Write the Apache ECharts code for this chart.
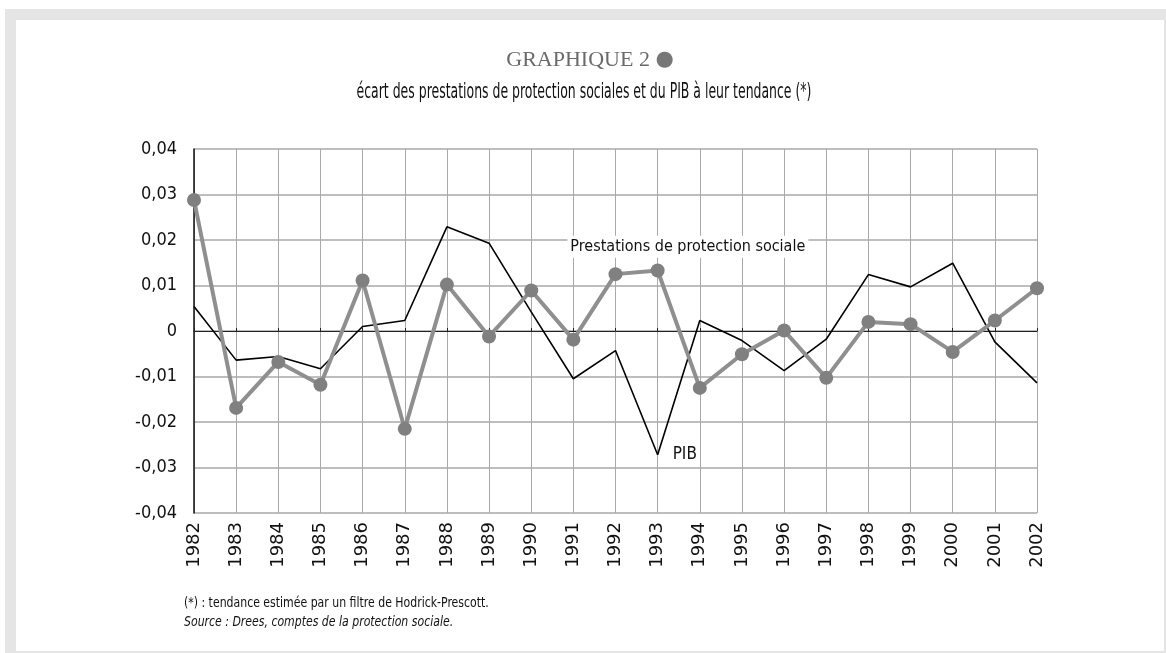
<!DOCTYPE html>
<html>
<head>
<meta charset="utf-8">
<script src="https://cdn.jsdelivr.net/npm/echarts@6/dist/echarts.min.js"></script>
<style>
  html, body { margin: 0; padding: 0; background: #fff; }
  #frame { position: absolute; left: 5px; top: 9px; width: 1161px; height: 644px; background: #e5e5e5; }
  #main { position: absolute; left: 16px; top: 20px; width: 1148px; height: 631px; background: #fff; }
</style>
</head>
<body>
<div id="frame"></div>
<div id="main"></div>
<script>
const years = ['1982', '1983', '1984', '1985', '1986', '1987', '1988', '1989', '1990', '1991', '1992',
  '1993', '1994', '1995', '1996', '1997', '1998', '1999', '2000', '2001', '2002'];

// écart du PIB à sa tendance
const pib = [0.0054, -0.0064, -0.0056, -0.0083, 0.0010, 0.0023, 0.0229, 0.0193, 0.0042, -0.0105, -0.0043,
  -0.0272, 0.0023, -0.0021, -0.0087, -0.0018, 0.0124, 0.0097, 0.0149, -0.0024, -0.0114];

// écart des prestations de protection sociale à leur tendance
const prestations = [0.0288, -0.0169, -0.0068, -0.0118, 0.0111, -0.0215, 0.0102, -0.0012, 0.0089, -0.0019, 0.0125,
  0.0133, -0.0125, -0.0051, 0.0001, -0.0103, 0.0020, 0.0015, -0.0046, 0.0023, 0.0094];

const yTicks = { min: -0.04, max: 0.04, step: 0.01 };

const narrow = "'Liberation Sans Narrow', 'DejaVu Sans Condensed', 'Roboto', sans-serif";

var chartDom = document.getElementById('main');
var myChart = echarts.init(chartDom);
var option;

option = {
  animation: false,
  title: {
    text: 'GRAPHIQUE 2 {dot|●}',
    left: 'center',
    top: 24,
    textStyle: {
      fontFamily: "'Liberation Serif', serif",
      fontWeight: 'normal',
      fontSize: 22,
      color: '#6a6a6a',
      rich: {
        dot: { fontSize: 21, color: '#777', fontFamily: "'DejaVu Sans', sans-serif" }
      }
    }
  },
  // condensed texts: no narrow font installed, so squeeze horizontally
  graphic: [
    {
      type: 'text',
      x: 568,
      y: 73,
      scaleX: 0.66,
      style: {
        text: 'écart des prestations de protection sociales et du PIB à leur tendance (*)',
        font: "21px " + narrow,
        fill: '#111',
        align: 'center',
        verticalAlign: 'middle'
      }
    },
    {
      type: 'text',
      x: 168,
      y: 583,
      scaleX: 0.9,
      style: {
        text: '(*) : tendance estimée par un filtre de Hodrick-Prescott.',
        font: "13.5px " + narrow,
        fill: '#111',
        align: 'left',
        verticalAlign: 'middle'
      }
    },
    {
      type: 'text',
      x: 168,
      y: 602,
      scaleX: 0.9,
      style: {
        text: 'Source : Drees, comptes de la protection sociale.',
        font: "italic 13.5px " + narrow,
        fill: '#111',
        align: 'left',
        verticalAlign: 'middle'
      }
    }
  ],
  grid: {
    left: 178,
    right: 127,
    top: 129,
    bottom: 138
  },
  xAxis: [
    {
      type: 'category',
      data: years,
      boundaryGap: false,
      axisLine: { show: false, onZero: false },
      axisTick: { show: false },
      splitLine: { show: true, lineStyle: { color: '#a9a9a9', width: 1 } },
      axisLabel: {
        interval: 0,
        rotate: 90,
        margin: 9,
        fontFamily: "'DejaVu Sans', sans-serif",
        fontSize: 18,
        color: '#111'
      }
    },
    {
      type: 'category',
      data: years,
      boundaryGap: false,
      position: 'bottom',
      axisLine: { show: true, onZero: true, lineStyle: { color: '#222', width: 1 } },
      axisTick: { show: true, inside: true, length: 3, interval: 0, lineStyle: { color: '#222' } },
      axisLabel: { show: false },
      splitLine: { show: false }
    }
  ],
  yAxis: {
    type: 'value',
    min: yTicks.min,
    max: yTicks.max,
    interval: yTicks.step,
    axisLine: { show: true, onZero: false, lineStyle: { color: '#111', width: 1.5 } },
    axisTick: { show: false },
    splitLine: { lineStyle: { color: '#a9a9a9', width: 1.5 } },
    axisLabel: {
      margin: 17,
      fontFamily: narrow,
      fontSize: 18,
      color: '#111',
      formatter: function (value) {
        var v = Math.round(value * 100) / 100;
        if (v === 0) return '0';
        return v.toFixed(2).replace('.', ',');
      }
    }
  },
  series: [
    {
      name: 'PIB',
      type: 'line',
      data: pib,
      symbol: 'none',
      lineStyle: { color: '#000', width: 1.6 },
      z: 3,
      markPoint: {
        symbol: 'circle',
        symbolSize: 0,
        data: [{ coord: ['1993', -0.0272] }],
        label: {
          show: true,
          position: 'right',
          distance: 15,
          formatter: 'PIB',
          fontFamily: narrow,
          fontSize: 17,
          color: '#111'
        }
      }
    },
    {
      name: 'Prestations de protection sociale',
      type: 'line',
      data: prestations,
      symbol: 'circle',
      symbolSize: 14,
      itemStyle: { color: '#808080' },
      lineStyle: { color: '#8f8f8f', width: 4 },
      z: 4,
      markPoint: {
        symbol: 'circle',
        symbolSize: 0,
        data: [{ coord: ['1991', 0.0185] }],
        label: {
          show: true,
          position: 'right',
          distance: 0,
          offset: [-6, 0],
          formatter: 'Prestations de protection sociale',
          fontFamily: narrow,
          fontSize: 16,
          color: '#111',
          backgroundColor: '#fff',
          padding: [3, 3]
        }
      }
    }
  ]
};

option && myChart.setOption(option);
</script>
</body>
</html>
